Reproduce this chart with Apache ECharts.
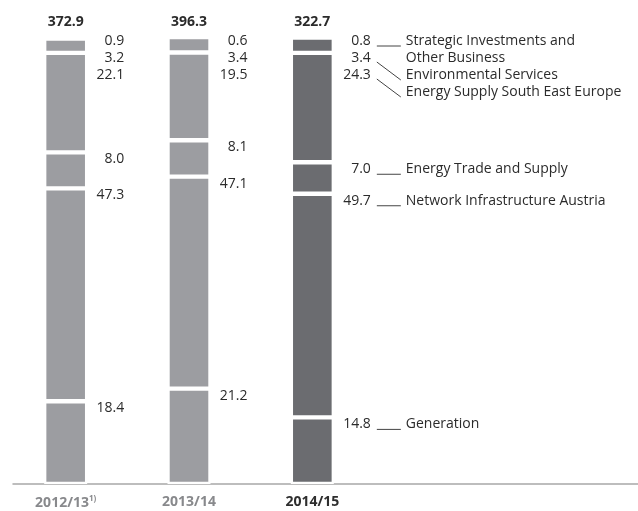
<!DOCTYPE html>
<html>
<head>
<meta charset="utf-8">
<script src="https://cdn.jsdelivr.net/npm/echarts@6/dist/echarts.min.js"></script>
<style>
  html, body { margin: 0; padding: 0; background: #fff; }
  #chart { width: 638px; height: 511px; }
</style>
</head>
<body>
<div id="chart"></div>
<script>
// categories + footnote marks
var years = ['2012/13', '2013/14', '2014/15'];
var yearNotes = ['1)', '', ''];
var totals = ['372.9', '396.3', '322.7'];

// segments from bottom to top, share in %
var segNames = ['Generation', 'Network Infrastructure Austria', 'Energy Trade and Supply',
  'Energy Supply South East Europe', 'Environmental Services', 'Strategic Investments and\nOther Business'];
var generation = [18.4, 21.2, 14.8];
var network = [47.3, 47.1, 49.7];
var trade = [8.0, 8.1, 7.0];
var see = [22.1, 19.5, 24.3];
var environ = [3.2, 3.4, 3.4];
var strategic = [0.9, 0.6, 0.8];
var segValues = [generation, network, trade, see, environ, strategic];

var FONT = 'Open Sans';
var LIGHT = '#9c9da1', DARK = '#6b6c70', TEXT = '#2b2b2b';
var BW = 43;      // bar width
var OFF = 7;      // label below segment top
var STEP = 17;    // min distance between labels

var chart = echarts.init(document.getElementById('chart'));

function buildOption() {
  return {
    animation: false,
    grid: [
      { left: 4, top: 34, width: 370, height: 450 },
      { left: 13, right: 0, top: 483, height: 1 }
    ],
    xAxis: [
      {
        type: 'category', gridIndex: 0, data: years, position: 'bottom',
        axisLine: { show: false }, axisTick: { show: false },
        axisLabel: {
          margin: 11, interval: 0,
          formatter: function (v, i) {
            var st = i === years.length - 1 ? 'cur' : 'past';
            return '{' + st + '|' + v + '}' + (yearNotes[i] ? '{sup|' + yearNotes[i] + '}' : '');
          },
          rich: {
            past: { fontSize: 14, fontWeight: 'bold', color: '#88898c', fontFamily: FONT },
            cur: { fontSize: 14, fontWeight: 'bold', color: '#2e2e2e', fontFamily: FONT },
            sup: { fontSize: 8, fontWeight: 'bold', color: '#88898c', fontFamily: FONT, padding: [0, 0, 8, 0] }
          }
        }
      },
      {
        type: 'category', gridIndex: 0, data: totals, position: 'top',
        axisLine: { show: false }, axisTick: { show: false },
        axisLabel: { margin: 5, interval: 0, fontSize: 14, fontWeight: 'bold', color: TEXT, fontFamily: FONT }
      },
      {
        type: 'value', gridIndex: 1, min: 0, max: 1,
        axisLine: { show: true, onZero: false, lineStyle: { color: '#a8a8a8', width: 1.5 } },
        axisTick: { show: false }, axisLabel: { show: false }, splitLine: { show: false }
      }
    ],
    yAxis: [
      { type: 'value', gridIndex: 0, min: 0, max: 100, show: false },
      { type: 'value', gridIndex: 1, min: 0, max: 1, show: false }
    ],
    series: segValues.map(function (vals, s) {
      return {
        name: segNames[s], type: 'bar', stack: 'share',
        xAxisIndex: 0, yAxisIndex: 0, barWidth: BW, data: vals,
        itemStyle: {
          color: function (p) { return p.dataIndex === years.length - 1 ? DARK : LIGHT; },
          borderColor: '#fff', borderWidth: 2.2
        },
        label: { show: false }
      };
    })
  };
}

chart.setOption(buildOption());

// label positions from the stacked values, via the chart's own scales
var labelPos = segValues.map(function () { return []; });
years.forEach(function (y, j) {
  var tops = [], cum = 0;
  segValues.forEach(function (vals) {
    cum += vals[j];
    tops.push(chart.convertToPixel({ seriesIndex: 0 }, [j, cum])[1]);
  });
  var right = chart.convertToPixel({ seriesIndex: 0 }, [j, 0])[0] + BW / 2 + 37;
  var prev = -Infinity;
  for (var s = tops.length - 1; s >= 0; s--) {
    var yy = Math.max(tops[s] + OFF, prev + STEP);
    labelPos[s][j] = { x: right, y: yy };
    prev = yy;
  }
});

// segment names + leader lines next to the latest bar
var graphics = [];
var jl = years.length - 1, prevName = -Infinity, prevLines = 0;
for (var s = segNames.length - 1; s >= 0; s--) {
  var vp = labelPos[s][jl];
  var ny = Math.max(vp.y, prevName + STEP * prevLines);
  graphics.push({
    type: 'text', x: vp.x + 35, y: ny - STEP / 2,
    style: { text: segNames[s], fontSize: 14, fontFamily: FONT, fill: TEXT, lineHeight: STEP, verticalAlign: 'top' }
  });
  var x1 = vp.x + 6, x2 = vp.x + 30;
  var shape = ny === vp.y
    ? { x1: x1, y1: vp.y + 5, x2: x2, y2: vp.y + 5 }
    : { x1: x1, y1: vp.y + 4, x2: x2, y2: ny + 5 };
  graphics.push({ type: 'line', shape: shape, style: { stroke: '#444', lineWidth: 1 } });
  prevName = ny;
  prevLines = segNames[s].split('\n').length;
}

chart.setOption({
  series: segValues.map(function (vals, s) {
    return {
      label: {
        show: true, fontSize: 14, fontFamily: FONT, color: TEXT,
        formatter: function (p) { return p.value.toFixed(1); }
      },
      labelLayout: function (p) {
        var L = labelPos[s][p.dataIndex];
        return { x: L.x, y: L.y, align: 'right', verticalAlign: 'middle' };
      }
    };
  }),
  graphic: graphics
});
</script>
</body>
</html>
